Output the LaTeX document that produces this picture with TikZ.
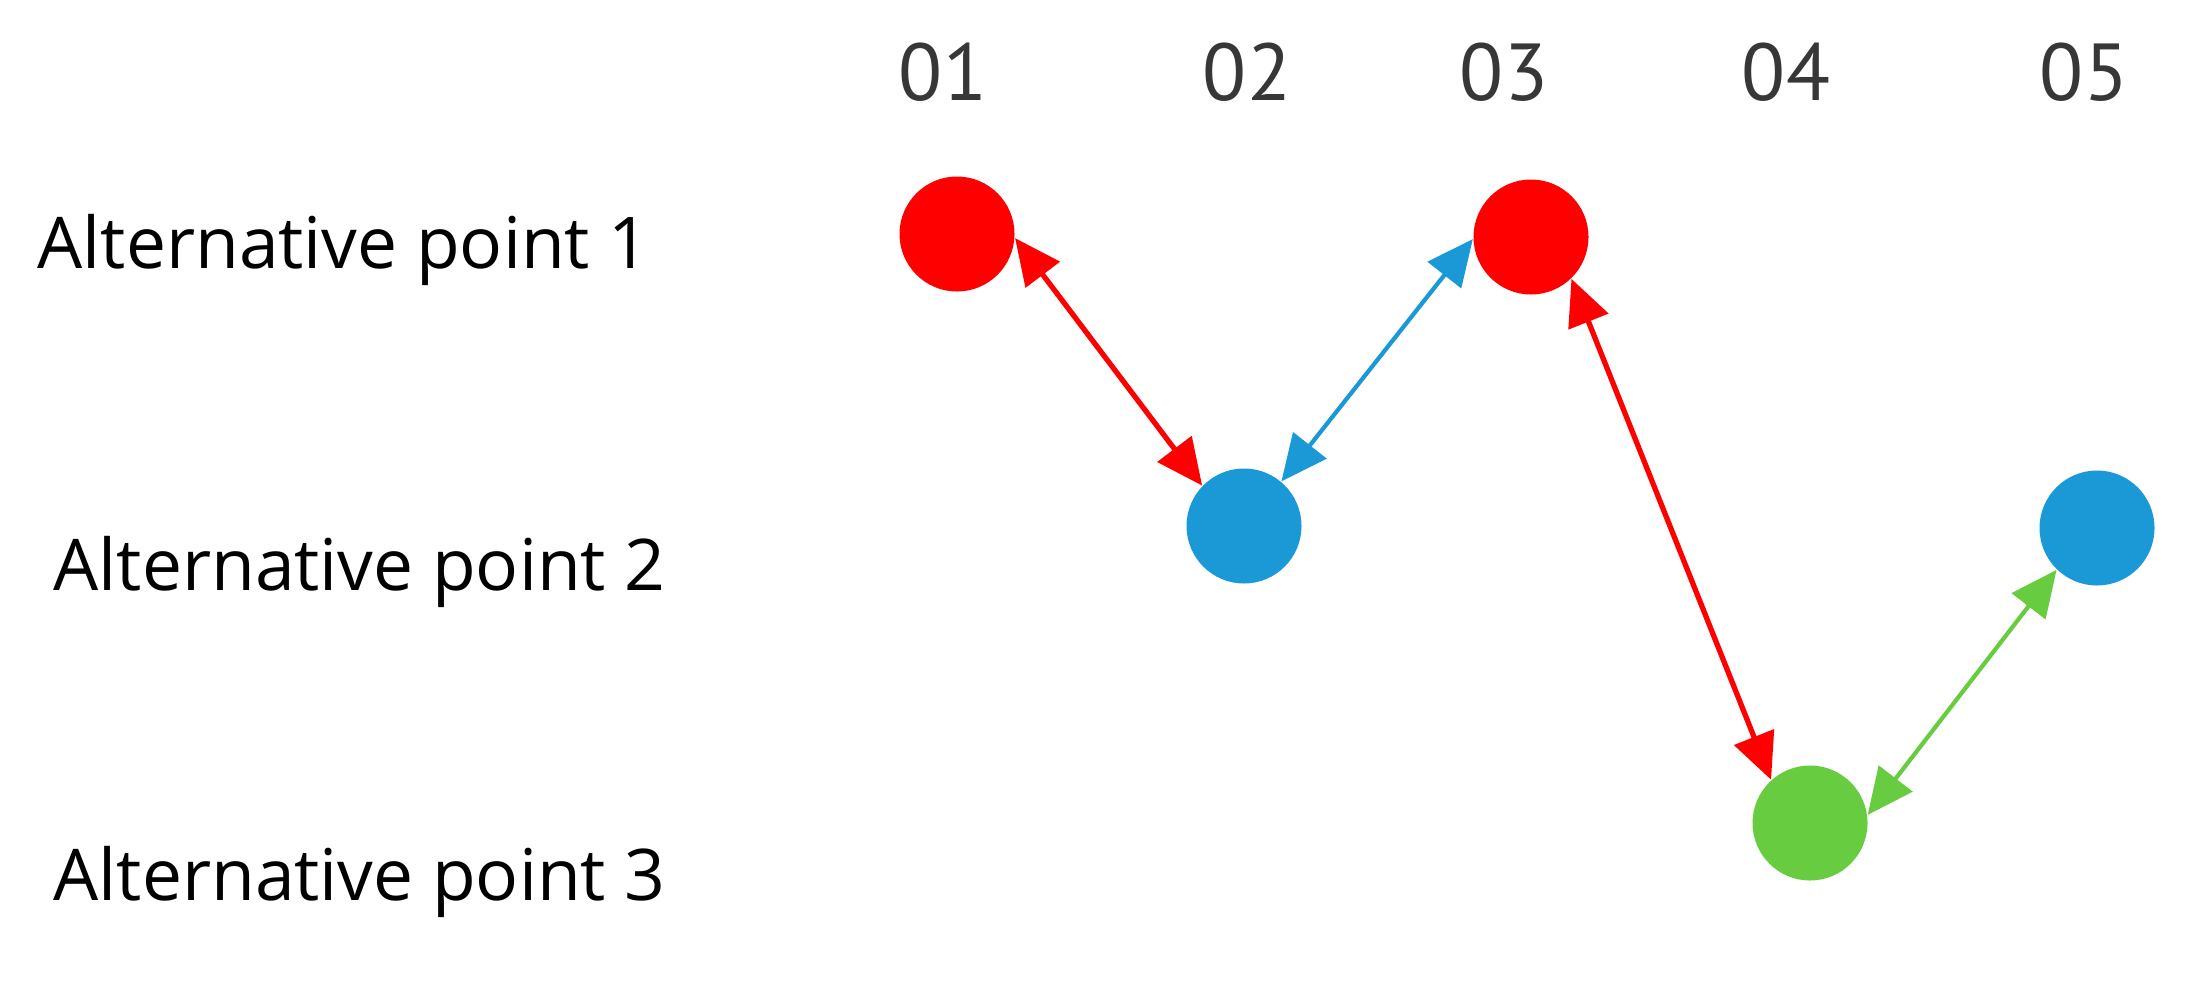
\documentclass[tikz,border=0pt]{standalone}
\usepackage{fontspec}
\setmainfont{Open Sans}
\newfontfamily\numfont{PT Sans}
\usetikzlibrary{arrows.meta}

\definecolor{ptred}{RGB}{255,0,0}
\definecolor{ptblue}{RGB}{27,152,214}
\definecolor{ptgreen}{RGB}{104,204,64}
\definecolor{labelgray}{RGB}{55,55,55}

\tikzset{
	pt/.style={circle, inner sep=0pt, minimum size=1.15cm},
	rowlabel/.style={anchor=base west, inner sep=0pt, font=\fontsize{20.3}{24}\selectfont},
	collabel/.style={text=labelgray, inner sep=0pt, font=\numfont\fontsize{23}{27}\selectfont},
	link/.style={<->, line width=1.5pt},
}

\begin{document}
\begin{tikzpicture}[>={Triangle[length=4.6mm,width=4.2mm]}]
	\useasboundingbox (0,0) rectangle (21.88,9.83);

	% Column labels
	\foreach \x/\t in {9.43/01, 12.47/02, 15.04/03, 17.86/04, 20.84/05} {
		\node[collabel] (c\t) at (\x,9.11) {\t};
	}

	% Row labels
	\node[rowlabel] (alt1) at (0.37,7.15) {Alternative point 1};
	\node[rowlabel] (alt2) at (0.53,3.93) {Alternative point 2};
	\node[rowlabel] (alt3) at (0.53,0.83) {Alternative point 3};

	% Points
	\node[pt, fill=ptred] (p1) at (9.57,7.49) {};
	\node[pt, fill=ptblue] (p2) at (12.44,4.57) {};
	\node[pt, fill=ptred] (p3) at (15.31,7.46) {};
	\node[pt, fill=ptgreen] (p4) at (18.10,1.60) {};
	\node[pt, fill=ptblue] (p5) at (20.97,4.55) {};

	% Links
	\draw[link, ptred] (p1.-4) -- (p2.136);
	\draw[link, ptblue, line width=1.2pt] (p2.50) -- (p3.182);
	\draw[link, ptred] (p3.-46) -- (p4.132);
	\draw[link, ptgreen, line width=1.2pt] (p4.8) -- (p5.226);

\end{tikzpicture}
\end{document}
